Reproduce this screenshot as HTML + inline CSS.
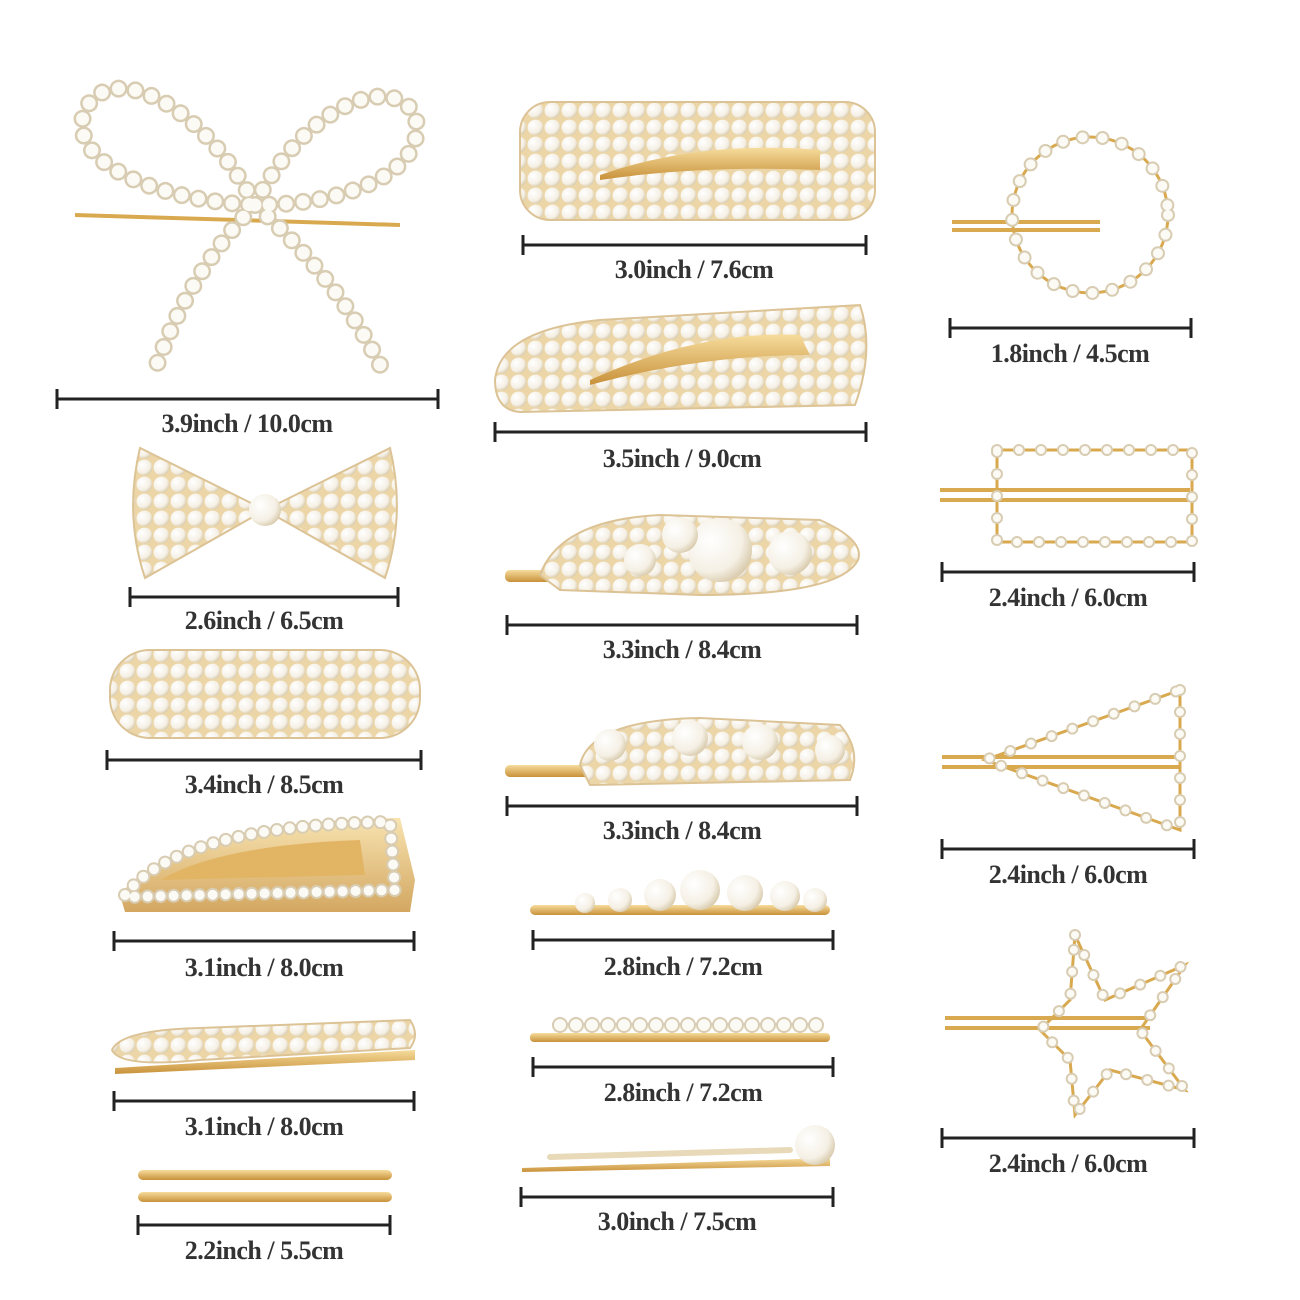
<!DOCTYPE html>
<html><head><meta charset="utf-8"><style>
html,body{margin:0;padding:0;background:#fff}
svg{display:block}
text{font-family:"Liberation Serif",serif;font-size:26px;font-weight:bold;letter-spacing:-0.5px;fill:#333;text-anchor:middle}
.m{stroke:#222;stroke-width:3;fill:none}
.ch1{fill:none;stroke:#d8ccb2;stroke-width:18;stroke-linecap:round;stroke-dasharray:0 17}
.ch2{fill:none;stroke:#fcfaf4;stroke-width:13;stroke-linecap:round;stroke-dasharray:0 17}
.g{fill:none;stroke:#d9a94f;stroke-width:4}
.pf{fill:url(#pat);stroke:#dcc396;stroke-width:2}
</style></head><body>
<svg width="1300" height="1300" viewBox="0 0 1300 1300">
<defs>
<radialGradient id="pg" cx="35%" cy="35%" r="70%"><stop offset="0" stop-color="#ffffff"/><stop offset="0.7" stop-color="#f5f0e5"/><stop offset="1" stop-color="#d9cbad"/></radialGradient>
<pattern id="pat" width="17" height="17" patternUnits="userSpaceOnUse"><rect width="17" height="17" fill="#ecd6a8"/><circle cx="8.5" cy="8.5" r="7.9" fill="url(#pg)"/></pattern>
<linearGradient id="gold" x1="0" y1="0" x2="0" y2="1"><stop offset="0" stop-color="#f6dc9c"/><stop offset="1" stop-color="#c8913a"/></linearGradient>
</defs>

<g class="m">
<path d="M57 399H438M57 389V409M438 389V409"/>
<path d="M130 597H398M130 587V607M398 587V607"/>
<path d="M107 760H421M107 750V770M421 750V770"/>
<path d="M114 941H414M114 931V951M414 931V951"/>
<path d="M114 1101H414M114 1091V1111M414 1091V1111"/>
<path d="M138 1225H390M138 1215V1235M390 1215V1235"/>
<path d="M523 245H866M523 235V255M866 235V255"/>
<path d="M495 432H866M495 422V442M866 422V442"/>
<path d="M507 625H857M507 615V635M857 615V635"/>
<path d="M507 806H857M507 796V816M857 796V816"/>
<path d="M533 940H833M533 930V950M833 930V950"/>
<path d="M533 1067H833M533 1057V1077M833 1057V1077"/>
<path d="M521 1197H833M521 1187V1207M833 1187V1207"/>
<path d="M950 328H1191M950 318V338M1191 318V338"/>
<path d="M942 572H1194M942 562V582M1194 562V582"/>
<path d="M942 849H1194M942 839V859M1194 839V859"/>
<path d="M942 1138H1194M942 1128V1148M1194 1128V1148"/>
</g>
<text x="247" y="432">3.9inch / 10.0cm</text>
<text x="264" y="629">2.6inch / 6.5cm</text>
<text x="264" y="793">3.4inch / 8.5cm</text>
<text x="264" y="976">3.1inch / 8.0cm</text>
<text x="264" y="1135">3.1inch / 8.0cm</text>
<text x="264" y="1259">2.2inch / 5.5cm</text>
<text x="694" y="278">3.0inch / 7.6cm</text>
<text x="682" y="467">3.5inch / 9.0cm</text>
<text x="682" y="658">3.3inch / 8.4cm</text>
<text x="682" y="839">3.3inch / 8.4cm</text>
<text x="683" y="975">2.8inch / 7.2cm</text>
<text x="683" y="1101">2.8inch / 7.2cm</text>
<text x="677" y="1230">3.0inch / 7.5cm</text>
<text x="1070" y="362">1.8inch / 4.5cm</text>
<text x="1068" y="606">2.4inch / 6.0cm</text>
<text x="1068" y="883">2.4inch / 6.0cm</text>
<text x="1068" y="1172">2.4inch / 6.0cm</text>

<path class="g" d="M75 215L400 225"/>
<g>
<path class="ch1" d="M255 205C200 100 110 60 85 110C65 160 150 200 255 205M255 205C300 110 390 70 415 115C430 170 350 205 255 205M255 205Q190 270 155 370M255 205Q340 280 385 375"/>
<path class="ch2" d="M255 205C200 100 110 60 85 110C65 160 150 200 255 205M255 205C300 110 390 70 415 115C430 170 350 205 255 205M255 205Q190 270 155 370M255 205Q340 280 385 375"/>
</g>
<path class="pf" d="M265 510L140 448Q124 515 145 578ZM265 510L390 448Q406 515 385 578Z"/>
<circle cx="265" cy="510" r="16" fill="url(#pg)"/>
<rect class="pf" x="110" y="650" width="310" height="88" rx="40"/>
<path d="M120 895Q180 820 400 818L415 880L410 912L125 912Z" fill="url(#gold)" opacity="0.8"/>
<path class="ch1" style="stroke-width:14;stroke-dasharray:0 13" d="M125 895Q180 825 390 822L395 890L125 897"/>
<path class="ch2" style="stroke-width:10;stroke-dasharray:0 13" d="M125 895Q180 825 390 822L395 890L125 897"/>
<path d="M160 880Q220 845 360 840L365 875Z" fill="#e2b565"/>
<path d="M115 1068L415 1050L415 1060L115 1074Z" fill="url(#gold)"/>
<path class="pf" d="M112 1050Q120 1030 200 1028L410 1020Q420 1035 410 1048L200 1060Q120 1068 112 1050Z"/>
<rect x="138" y="1170" width="254" height="10" rx="5" fill="url(#gold)"/>
<rect x="138" y="1192" width="254" height="10" rx="5" fill="url(#gold)"/>

<rect class="pf" x="520" y="102" width="355" height="118" rx="30"/>
<path d="M600 175Q700 140 820 150L820 170Q700 165 600 180Z" fill="url(#gold)"/>
<path class="pf" d="M495 380Q500 330 600 320L860 305Q875 350 855 405L520 412Q495 410 495 380Z"/>
<path d="M590 380Q700 330 800 335L810 355Q700 355 590 385Z" fill="url(#gold)"/>
<rect x="505" y="570" width="200" height="12" rx="5" fill="url(#gold)"/>
<path class="pf" d="M540 575Q560 520 660 515L820 520Q865 540 858 560Q840 595 700 595L560 590Z"/>
<circle cx="720" cy="550" r="32" fill="url(#pg)"/><circle cx="790" cy="553" r="22" fill="url(#pg)"/><circle cx="680" cy="535" r="18" fill="url(#pg)"/><circle cx="640" cy="560" r="16" fill="url(#pg)"/>
<rect x="505" y="765" width="180" height="12" rx="5" fill="url(#gold)"/>
<path class="pf" d="M580 765Q590 720 700 718L840 725Q862 750 850 780L590 785Z"/>
<circle cx="610" cy="745" r="16" fill="url(#pg)"/><circle cx="690" cy="738" r="18" fill="url(#pg)"/><circle cx="760" cy="742" r="18" fill="url(#pg)"/><circle cx="830" cy="750" r="15" fill="url(#pg)"/>
<rect x="530" y="905" width="300" height="10" rx="5" fill="url(#gold)"/>
<circle cx="620" cy="900" r="12" fill="url(#pg)"/><circle cx="660" cy="895" r="16" fill="url(#pg)"/><circle cx="700" cy="890" r="20" fill="url(#pg)"/><circle cx="745" cy="893" r="18" fill="url(#pg)"/><circle cx="785" cy="896" r="15" fill="url(#pg)"/><circle cx="815" cy="900" r="12" fill="url(#pg)"/><circle cx="585" cy="903" r="10" fill="url(#pg)"/>
<rect x="530" y="1033" width="300" height="9" rx="4" fill="url(#gold)"/>
<path class="ch1" style="stroke-width:16;stroke-dasharray:0 16" d="M560 1025H825"/><path class="ch2" style="stroke-width:12;stroke-dasharray:0 16" d="M560 1025H825"/>
<path d="M522 1168L830 1158L830 1166L522 1172Z" fill="url(#gold)"/>
<path d="M550 1157L790 1150" stroke="#e8d9b8" stroke-width="6" stroke-linecap="round"/>
<circle cx="815" cy="1145" r="20" fill="url(#pg)"/>

<path class="g" d="M952 222H1100M952 230H1100"/>
<circle cx="1090" cy="215" r="78" fill="none" stroke="#d9a94f" stroke-width="3"/>
<circle class="ch1" style="stroke-width:14;stroke-dasharray:0 20" cx="1090" cy="215" r="78"/>
<circle class="ch2" style="stroke-width:10;stroke-dasharray:0 20" cx="1090" cy="215" r="78"/>
<path class="g" d="M940 490H1190M940 500H1190"/>
<rect x="997" y="450" width="195" height="92" fill="none" stroke="#d9a94f" stroke-width="3"/>
<rect class="ch1" style="stroke-width:12;stroke-dasharray:0 22" x="997" y="450" width="195" height="92"/>
<rect class="ch2" style="stroke-width:8;stroke-dasharray:0 22" x="997" y="450" width="195" height="92"/>
<path class="g" d="M942 757H1180M942 767H1180"/>
<path d="M1180 690L1180 830L985 760Z" fill="none" stroke="#d9a94f" stroke-width="3"/>
<path class="ch1" style="stroke-width:12;stroke-dasharray:0 22" d="M1180 690L1180 830L985 760Z"/>
<path class="ch2" style="stroke-width:8;stroke-dasharray:0 22" d="M1180 690L1180 830L985 760Z"/>
<path class="g" d="M945 1018H1150M945 1028H1150"/>
<path d="M1075 935L1105 1000L1185 965L1140 1030L1185 1090L1110 1070L1075 1115L1070 1060L1040 1030L1070 1000Z" fill="none" stroke="#d9a94f" stroke-width="3"/>
<path class="ch1" style="stroke-width:12;stroke-dasharray:0 22" d="M1075 935L1105 1000L1185 965L1140 1030L1185 1090L1110 1070L1075 1115L1070 1060L1040 1030L1070 1000Z"/>
<path class="ch2" style="stroke-width:8;stroke-dasharray:0 22" d="M1075 935L1105 1000L1185 965L1140 1030L1185 1090L1110 1070L1075 1115L1070 1060L1040 1030L1070 1000Z"/>
</svg>
</body></html>
